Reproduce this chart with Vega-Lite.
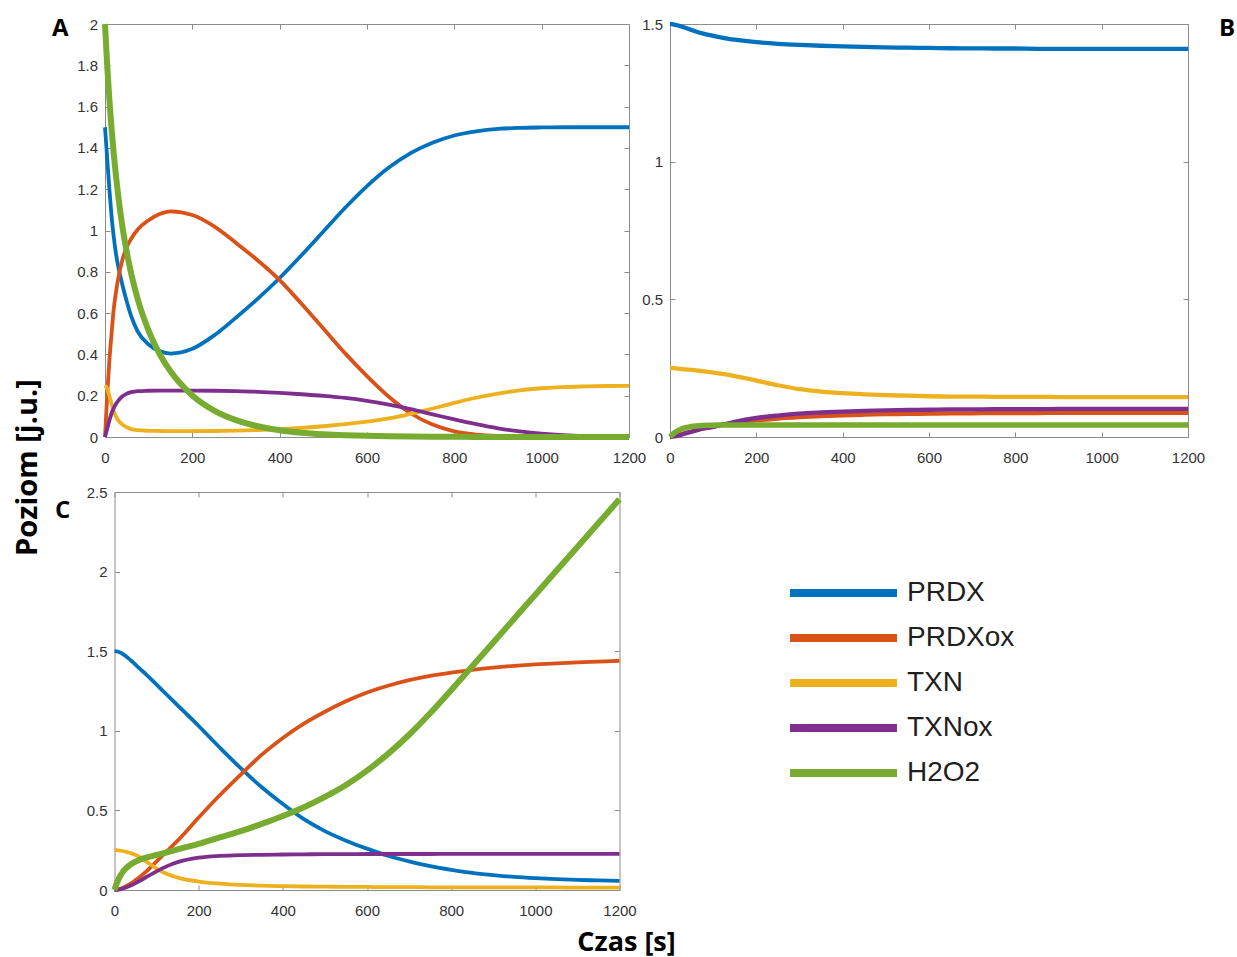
{
  "$schema": "https://vega.github.io/schema/vega-lite/v6.json",
  "padding": {"left": 12, "top": 16, "right": 0, "bottom": 8},
  "background": "white",
  "config": {
    "font": "Liberation Sans",
    "view": {"stroke": "#8c8c8c", "strokeWidth": 1},
    "axis": {
      "labelFont": "Liberation Sans",
      "labelFontSize": 15,
      "labelColor": "#333333",
      "labelFlush": false,
      "labelOverlap": false,
      "tickColor": "#8c8c8c",
      "tickWidth": 1,
      "tickSize": -5,
      "domain": false,
      "grid": false,
      "titleFont": "Open Sans",
      "titleFontWeight": "bold",
      "titleColor": "#000000"
    },
    "title": {
      "font": "Open Sans",
      "fontWeight": "bold",
      "fontSize": 24,
      "color": "#000000",
      "anchor": "start",
      "frame": "group",
      "offset": 0,
      "baseline": "alphabetic"
    },
    "line": {"interpolate": "monotone", "strokeJoin": "round"}
  },
  "datasets": {
    "runs": [
      {"panel": "A", "t": 0, "PRDX": 1.5, "PRDXox": 0, "TXN": 0.25, "TXNox": 0, "H2O2": 2.0},
      {"panel": "A", "t": 5, "PRDX": 1.35, "PRDXox": 0.2, "TXN": 0.235, "TXNox": 0.04, "H2O2": 1.8},
      {"panel": "A", "t": 10, "PRDX": 1.2, "PRDXox": 0.37, "TXN": 0.2, "TXNox": 0.08, "H2O2": 1.636},
      {"panel": "A", "t": 15, "PRDX": 1.07, "PRDXox": 0.5, "TXN": 0.16, "TXNox": 0.115, "H2O2": 1.494},
      {"panel": "A", "t": 20, "PRDX": 0.97, "PRDXox": 0.62, "TXN": 0.125, "TXNox": 0.14, "H2O2": 1.372},
      {"panel": "A", "t": 25, "PRDX": 0.89, "PRDXox": 0.7, "TXN": 0.1, "TXNox": 0.16, "H2O2": 1.266},
      {"panel": "A", "t": 30, "PRDX": 0.83, "PRDXox": 0.765, "TXN": 0.082, "TXNox": 0.175, "H2O2": 1.173},
      {"panel": "A", "t": 40, "PRDX": 0.735, "PRDXox": 0.86, "TXN": 0.06, "TXNox": 0.197, "H2O2": 1.017},
      {"panel": "A", "t": 50, "PRDX": 0.655, "PRDXox": 0.92, "TXN": 0.047, "TXNox": 0.21, "H2O2": 0.893},
      {"panel": "A", "t": 60, "PRDX": 0.585, "PRDXox": 0.96, "TXN": 0.038, "TXNox": 0.217, "H2O2": 0.791},
      {"panel": "A", "t": 75, "PRDX": 0.51, "PRDXox": 1.005, "TXN": 0.033, "TXNox": 0.222, "H2O2": 0.667},
      {"panel": "A", "t": 100, "PRDX": 0.448, "PRDXox": 1.05, "TXN": 0.03, "TXNox": 0.224, "H2O2": 0.514},
      {"panel": "A", "t": 125, "PRDX": 0.416, "PRDXox": 1.08, "TXN": 0.029, "TXNox": 0.225, "H2O2": 0.402},
      {"panel": "A", "t": 150, "PRDX": 0.404, "PRDXox": 1.093, "TXN": 0.028, "TXNox": 0.225, "H2O2": 0.318},
      {"panel": "A", "t": 200, "PRDX": 0.427, "PRDXox": 1.075, "TXN": 0.028, "TXNox": 0.225, "H2O2": 0.201},
      {"panel": "A", "t": 250, "PRDX": 0.492, "PRDXox": 1.02, "TXN": 0.029, "TXNox": 0.224, "H2O2": 0.128},
      {"panel": "A", "t": 300, "PRDX": 0.578, "PRDXox": 0.94, "TXN": 0.031, "TXNox": 0.222, "H2O2": 0.082},
      {"panel": "A", "t": 350, "PRDX": 0.67, "PRDXox": 0.855, "TXN": 0.034, "TXNox": 0.219, "H2O2": 0.052},
      {"panel": "A", "t": 400, "PRDX": 0.77, "PRDXox": 0.76, "TXN": 0.038, "TXNox": 0.214, "H2O2": 0.033},
      {"panel": "A", "t": 450, "PRDX": 0.88, "PRDXox": 0.645, "TXN": 0.044, "TXNox": 0.207, "H2O2": 0.021},
      {"panel": "A", "t": 500, "PRDX": 0.995, "PRDXox": 0.525, "TXN": 0.052, "TXNox": 0.199, "H2O2": 0.0135},
      {"panel": "A", "t": 550, "PRDX": 1.11, "PRDXox": 0.405, "TXN": 0.062, "TXNox": 0.189, "H2O2": 0.0086},
      {"panel": "A", "t": 600, "PRDX": 1.215, "PRDXox": 0.295, "TXN": 0.074, "TXNox": 0.175, "H2O2": 0.0055},
      {"panel": "A", "t": 650, "PRDX": 1.305, "PRDXox": 0.195, "TXN": 0.09, "TXNox": 0.157, "H2O2": 0.0035},
      {"panel": "A", "t": 700, "PRDX": 1.375, "PRDXox": 0.115, "TXN": 0.112, "TXNox": 0.135, "H2O2": 0.0022},
      {"panel": "A", "t": 750, "PRDX": 1.425, "PRDXox": 0.06, "TXN": 0.138, "TXNox": 0.11, "H2O2": 0.0014},
      {"panel": "A", "t": 800, "PRDX": 1.46, "PRDXox": 0.027, "TXN": 0.165, "TXNox": 0.085, "H2O2": 0.0009},
      {"panel": "A", "t": 850, "PRDX": 1.48, "PRDXox": 0.012, "TXN": 0.19, "TXNox": 0.062, "H2O2": 0.0005},
      {"panel": "A", "t": 900, "PRDX": 1.492, "PRDXox": 0.005, "TXN": 0.21, "TXNox": 0.042, "H2O2": 0.0003},
      {"panel": "A", "t": 950, "PRDX": 1.497, "PRDXox": 0.002, "TXN": 0.226, "TXNox": 0.027, "H2O2": 0.0002},
      {"panel": "A", "t": 1000, "PRDX": 1.499, "PRDXox": 0.001, "TXN": 0.236, "TXNox": 0.016, "H2O2": 0.0001},
      {"panel": "A", "t": 1050, "PRDX": 1.5, "PRDXox": 0, "TXN": 0.242, "TXNox": 0.009, "H2O2": 0},
      {"panel": "A", "t": 1100, "PRDX": 1.5, "PRDXox": 0, "TXN": 0.245, "TXNox": 0.005, "H2O2": 0},
      {"panel": "A", "t": 1150, "PRDX": 1.5, "PRDXox": 0, "TXN": 0.247, "TXNox": 0.003, "H2O2": 0},
      {"panel": "A", "t": 1200, "PRDX": 1.5, "PRDXox": 0, "TXN": 0.248, "TXNox": 0.002, "H2O2": 0},

      {"panel": "B", "t": 0, "PRDX": 1.5, "PRDXox": 0, "TXN": 0.25, "TXNox": 0, "H2O2": 0},
      {"panel": "B", "t": 5, "PRDX": 1.4995, "PRDXox": 0.002, "TXN": 0.25, "TXNox": 0.001, "H2O2": 0.008},
      {"panel": "B", "t": 10, "PRDX": 1.498, "PRDXox": 0.004, "TXN": 0.25, "TXNox": 0.002, "H2O2": 0.015},
      {"panel": "B", "t": 15, "PRDX": 1.496, "PRDXox": 0.006, "TXN": 0.249, "TXNox": 0.004, "H2O2": 0.02},
      {"panel": "B", "t": 20, "PRDX": 1.494, "PRDXox": 0.008, "TXN": 0.248, "TXNox": 0.006, "H2O2": 0.025},
      {"panel": "B", "t": 25, "PRDX": 1.4915, "PRDXox": 0.01, "TXN": 0.247, "TXNox": 0.008, "H2O2": 0.028},
      {"panel": "B", "t": 30, "PRDX": 1.489, "PRDXox": 0.012, "TXN": 0.246, "TXNox": 0.01, "H2O2": 0.031},
      {"panel": "B", "t": 40, "PRDX": 1.484, "PRDXox": 0.016, "TXN": 0.245, "TXNox": 0.015, "H2O2": 0.035},
      {"panel": "B", "t": 50, "PRDX": 1.478, "PRDXox": 0.02, "TXN": 0.244, "TXNox": 0.019, "H2O2": 0.038},
      {"panel": "B", "t": 60, "PRDX": 1.473, "PRDXox": 0.024, "TXN": 0.242, "TXNox": 0.024, "H2O2": 0.04},
      {"panel": "B", "t": 75, "PRDX": 1.466, "PRDXox": 0.03, "TXN": 0.239, "TXNox": 0.03, "H2O2": 0.042},
      {"panel": "B", "t": 100, "PRDX": 1.457, "PRDXox": 0.038, "TXN": 0.234, "TXNox": 0.037, "H2O2": 0.043},
      {"panel": "B", "t": 125, "PRDX": 1.449, "PRDXox": 0.045, "TXN": 0.228, "TXNox": 0.046, "H2O2": 0.044},
      {"panel": "B", "t": 150, "PRDX": 1.443, "PRDXox": 0.051, "TXN": 0.221, "TXNox": 0.055, "H2O2": 0.044},
      {"panel": "B", "t": 200, "PRDX": 1.434, "PRDXox": 0.06, "TXN": 0.205, "TXNox": 0.069, "H2O2": 0.044},
      {"panel": "B", "t": 250, "PRDX": 1.428, "PRDXox": 0.067, "TXN": 0.188, "TXNox": 0.078, "H2O2": 0.044},
      {"panel": "B", "t": 300, "PRDX": 1.424, "PRDXox": 0.072, "TXN": 0.174, "TXNox": 0.085, "H2O2": 0.044},
      {"panel": "B", "t": 350, "PRDX": 1.421, "PRDXox": 0.076, "TXN": 0.165, "TXNox": 0.089, "H2O2": 0.044},
      {"panel": "B", "t": 400, "PRDX": 1.419, "PRDXox": 0.079, "TXN": 0.159, "TXNox": 0.092, "H2O2": 0.044},
      {"panel": "B", "t": 450, "PRDX": 1.417, "PRDXox": 0.081, "TXN": 0.155, "TXNox": 0.095, "H2O2": 0.044},
      {"panel": "B", "t": 500, "PRDX": 1.415, "PRDXox": 0.083, "TXN": 0.152, "TXNox": 0.097, "H2O2": 0.044},
      {"panel": "B", "t": 550, "PRDX": 1.414, "PRDXox": 0.084, "TXN": 0.15, "TXNox": 0.098, "H2O2": 0.044},
      {"panel": "B", "t": 600, "PRDX": 1.413, "PRDXox": 0.085, "TXN": 0.148, "TXNox": 0.099, "H2O2": 0.044},
      {"panel": "B", "t": 650, "PRDX": 1.412, "PRDXox": 0.086, "TXN": 0.147, "TXNox": 0.1, "H2O2": 0.044},
      {"panel": "B", "t": 700, "PRDX": 1.4115, "PRDXox": 0.086, "TXN": 0.147, "TXNox": 0.1, "H2O2": 0.044},
      {"panel": "B", "t": 750, "PRDX": 1.411, "PRDXox": 0.087, "TXN": 0.146, "TXNox": 0.101, "H2O2": 0.044},
      {"panel": "B", "t": 800, "PRDX": 1.411, "PRDXox": 0.087, "TXN": 0.146, "TXNox": 0.101, "H2O2": 0.044},
      {"panel": "B", "t": 850, "PRDX": 1.41, "PRDXox": 0.087, "TXN": 0.146, "TXNox": 0.101, "H2O2": 0.044},
      {"panel": "B", "t": 900, "PRDX": 1.41, "PRDXox": 0.088, "TXN": 0.145, "TXNox": 0.102, "H2O2": 0.044},
      {"panel": "B", "t": 950, "PRDX": 1.41, "PRDXox": 0.088, "TXN": 0.145, "TXNox": 0.102, "H2O2": 0.044},
      {"panel": "B", "t": 1000, "PRDX": 1.41, "PRDXox": 0.088, "TXN": 0.145, "TXNox": 0.102, "H2O2": 0.044},
      {"panel": "B", "t": 1050, "PRDX": 1.41, "PRDXox": 0.088, "TXN": 0.145, "TXNox": 0.102, "H2O2": 0.044},
      {"panel": "B", "t": 1100, "PRDX": 1.41, "PRDXox": 0.088, "TXN": 0.145, "TXNox": 0.102, "H2O2": 0.044},
      {"panel": "B", "t": 1150, "PRDX": 1.41, "PRDXox": 0.088, "TXN": 0.145, "TXNox": 0.102, "H2O2": 0.044},
      {"panel": "B", "t": 1200, "PRDX": 1.41, "PRDXox": 0.088, "TXN": 0.145, "TXNox": 0.102, "H2O2": 0.044},

      {"panel": "C", "t": 0, "PRDX": 1.5, "PRDXox": 0, "TXN": 0.25, "TXNox": 0, "H2O2": 0},
      {"panel": "C", "t": 5, "PRDX": 1.499, "PRDXox": 0.002, "TXN": 0.25, "TXNox": 0.001, "H2O2": 0.04},
      {"panel": "C", "t": 10, "PRDX": 1.495, "PRDXox": 0.005, "TXN": 0.249, "TXNox": 0.003, "H2O2": 0.07},
      {"panel": "C", "t": 15, "PRDX": 1.49, "PRDXox": 0.009, "TXN": 0.247, "TXNox": 0.006, "H2O2": 0.095},
      {"panel": "C", "t": 20, "PRDX": 1.482, "PRDXox": 0.014, "TXN": 0.245, "TXNox": 0.01, "H2O2": 0.115},
      {"panel": "C", "t": 25, "PRDX": 1.473, "PRDXox": 0.02, "TXN": 0.242, "TXNox": 0.014, "H2O2": 0.13},
      {"panel": "C", "t": 30, "PRDX": 1.462, "PRDXox": 0.027, "TXN": 0.238, "TXNox": 0.019, "H2O2": 0.143},
      {"panel": "C", "t": 40, "PRDX": 1.44, "PRDXox": 0.043, "TXN": 0.23, "TXNox": 0.03, "H2O2": 0.163},
      {"panel": "C", "t": 50, "PRDX": 1.415, "PRDXox": 0.062, "TXN": 0.22, "TXNox": 0.043, "H2O2": 0.178},
      {"panel": "C", "t": 60, "PRDX": 1.39, "PRDXox": 0.082, "TXN": 0.207, "TXNox": 0.057, "H2O2": 0.19},
      {"panel": "C", "t": 75, "PRDX": 1.355, "PRDXox": 0.115, "TXN": 0.18, "TXNox": 0.08, "H2O2": 0.203},
      {"panel": "C", "t": 100, "PRDX": 1.29, "PRDXox": 0.18, "TXN": 0.135, "TXNox": 0.117, "H2O2": 0.22},
      {"panel": "C", "t": 125, "PRDX": 1.225, "PRDXox": 0.245, "TXN": 0.1, "TXNox": 0.15, "H2O2": 0.237},
      {"panel": "C", "t": 150, "PRDX": 1.16, "PRDXox": 0.31, "TXN": 0.078, "TXNox": 0.175, "H2O2": 0.255},
      {"panel": "C", "t": 200, "PRDX": 1.03, "PRDXox": 0.455, "TXN": 0.053, "TXNox": 0.203, "H2O2": 0.29},
      {"panel": "C", "t": 250, "PRDX": 0.895, "PRDXox": 0.595, "TXN": 0.04, "TXNox": 0.214, "H2O2": 0.33},
      {"panel": "C", "t": 300, "PRDX": 0.765, "PRDXox": 0.725, "TXN": 0.032, "TXNox": 0.219, "H2O2": 0.37},
      {"panel": "C", "t": 350, "PRDX": 0.645, "PRDXox": 0.85, "TXN": 0.027, "TXNox": 0.221, "H2O2": 0.415},
      {"panel": "C", "t": 400, "PRDX": 0.54, "PRDXox": 0.955, "TXN": 0.024, "TXNox": 0.223, "H2O2": 0.465},
      {"panel": "C", "t": 450, "PRDX": 0.445, "PRDXox": 1.045, "TXN": 0.022, "TXNox": 0.224, "H2O2": 0.52},
      {"panel": "C", "t": 500, "PRDX": 0.37, "PRDXox": 1.12, "TXN": 0.021, "TXNox": 0.225, "H2O2": 0.585},
      {"panel": "C", "t": 550, "PRDX": 0.31, "PRDXox": 1.185, "TXN": 0.02, "TXNox": 0.225, "H2O2": 0.66},
      {"panel": "C", "t": 600, "PRDX": 0.26, "PRDXox": 1.24, "TXN": 0.019, "TXNox": 0.226, "H2O2": 0.75},
      {"panel": "C", "t": 650, "PRDX": 0.215, "PRDXox": 1.283, "TXN": 0.018, "TXNox": 0.226, "H2O2": 0.855},
      {"panel": "C", "t": 700, "PRDX": 0.18, "PRDXox": 1.318, "TXN": 0.018, "TXNox": 0.226, "H2O2": 0.975},
      {"panel": "C", "t": 750, "PRDX": 0.15, "PRDXox": 1.345, "TXN": 0.017, "TXNox": 0.226, "H2O2": 1.11},
      {"panel": "C", "t": 800, "PRDX": 0.127, "PRDXox": 1.366, "TXN": 0.017, "TXNox": 0.227, "H2O2": 1.255},
      {"panel": "C", "t": 850, "PRDX": 0.108, "PRDXox": 1.383, "TXN": 0.017, "TXNox": 0.227, "H2O2": 1.405},
      {"panel": "C", "t": 900, "PRDX": 0.094, "PRDXox": 1.397, "TXN": 0.016, "TXNox": 0.227, "H2O2": 1.555},
      {"panel": "C", "t": 950, "PRDX": 0.082, "PRDXox": 1.408, "TXN": 0.016, "TXNox": 0.227, "H2O2": 1.705},
      {"panel": "C", "t": 1000, "PRDX": 0.074, "PRDXox": 1.417, "TXN": 0.016, "TXNox": 0.227, "H2O2": 1.855},
      {"panel": "C", "t": 1050, "PRDX": 0.068, "PRDXox": 1.424, "TXN": 0.016, "TXNox": 0.227, "H2O2": 2.005},
      {"panel": "C", "t": 1100, "PRDX": 0.063, "PRDXox": 1.43, "TXN": 0.015, "TXNox": 0.227, "H2O2": 2.155},
      {"panel": "C", "t": 1150, "PRDX": 0.06, "PRDXox": 1.435, "TXN": 0.015, "TXNox": 0.227, "H2O2": 2.305},
      {"panel": "C", "t": 1200, "PRDX": 0.057, "PRDXox": 1.44, "TXN": 0.015, "TXNox": 0.227, "H2O2": 2.455}
    ],
    "keys": [
      {"series": "PRDX"},
      {"series": "PRDXox"},
      {"series": "TXN"},
      {"series": "TXNox"},
      {"series": "H2O2"}
    ]
  },
  "columns": 2,
  "spacing": {"row": 55, "column": 41},
  "bounds": "flush",
  "align": "each",
  "center": true,
  "concat": [
    {
      "width": 524,
      "height": 413,
      "data": {"name": "runs"},
      "transform": [
        {"filter": "datum.panel == 'A'"},
        {"fold": ["PRDX", "PRDXox", "TXN", "TXNox", "H2O2"], "as": ["series", "v"]}
      ],
      "title": {"text": "A", "dx": -53, "dy": 28},
      "resolve": {"axis": {"x": "independent", "y": "independent"}},
      "encoding": {
        "color": {
          "field": "series", "type": "nominal",
          "scale": {"domain": ["PRDX", "PRDXox", "TXN", "TXNox", "H2O2"], "range": ["#0072BD", "#D95319", "#EDB120", "#7E2F8E", "#77AC30"]},
          "legend": null
        }
      },
      "layer": [
        {
          "transform": [{"filter": "datum.series != 'H2O2'"}],
          "mark": {"type": "line", "strokeWidth": 3.8},
          "encoding": {
            "x": {"field": "t", "type": "quantitative", "scale": {"domain": [0, 1200], "nice": false},
                  "axis": {"values": [0, 200, 400, 600, 800, 1000, 1200], "format": "d", "labelPadding": 18.5, "title": null}},
            "y": {"field": "v", "type": "quantitative", "scale": {"domain": [0, 2], "nice": false},
                  "axis": {"values": [0, 0.2, 0.4, 0.6, 0.8, 1, 1.2, 1.4, 1.6, 1.8, 2], "format": "~g", "labelPadding": 12.5,
                           "title": "Poziom [j.u.]", "titleFontSize": 29, "titleAngle": 270, "titleAlign": "center",
                           "titleBaseline": "alphabetic", "titleX": -69, "titleY": 443}}
          }
        },
        {
          "transform": [{"filter": "datum.series == 'H2O2'"}],
          "mark": {"type": "line", "strokeWidth": 6},
          "encoding": {
            "x": {"field": "t", "type": "quantitative",
                  "axis": {"orient": "top", "labels": false, "values": [0, 200, 400, 600, 800, 1000, 1200], "title": null}},
            "y": {"field": "v", "type": "quantitative",
                  "axis": {"orient": "right", "labels": false, "values": [0, 0.2, 0.4, 0.6, 0.8, 1, 1.2, 1.4, 1.6, 1.8, 2], "title": null}}
          }
        }
      ]
    },
    {
      "width": 518,
      "height": 413,
      "data": {"name": "runs"},
      "transform": [
        {"filter": "datum.panel == 'B'"},
        {"fold": ["PRDX", "PRDXox", "TXN", "TXNox", "H2O2"], "as": ["series", "v"]}
      ],
      "title": {"text": "B", "anchor": "end", "dx": 47, "dy": 28},
      "resolve": {"axis": {"x": "independent", "y": "independent"}},
      "encoding": {
        "color": {
          "field": "series", "type": "nominal",
          "scale": {"domain": ["PRDX", "PRDXox", "TXN", "TXNox", "H2O2"], "range": ["#0072BD", "#D95319", "#EDB120", "#7E2F8E", "#77AC30"]},
          "legend": null
        }
      },
      "layer": [
        {
          "transform": [{"filter": "datum.series != 'H2O2'"}],
          "mark": {"type": "line", "strokeWidth": 4.3},
          "encoding": {
            "x": {"field": "t", "type": "quantitative", "scale": {"domain": [0, 1200], "nice": false},
                  "axis": {"values": [0, 200, 400, 600, 800, 1000, 1200], "format": "d", "labelPadding": 18.5, "title": null}},
            "y": {"field": "v", "type": "quantitative", "scale": {"domain": [0, 1.5], "nice": false},
                  "axis": {"values": [0, 0.5, 1, 1.5], "format": "~g", "labelPadding": 12.5, "title": null}}
          }
        },
        {
          "transform": [{"filter": "datum.series == 'H2O2'"}],
          "mark": {"type": "line", "strokeWidth": 5.5},
          "encoding": {
            "x": {"field": "t", "type": "quantitative",
                  "axis": {"orient": "top", "labels": false, "values": [0, 200, 400, 600, 800, 1000, 1200], "title": null}},
            "y": {"field": "v", "type": "quantitative",
                  "axis": {"orient": "right", "labels": false, "values": [0, 0.5, 1, 1.5], "title": null}}
          }
        }
      ]
    },
    {
      "width": 505,
      "height": 398,
      "data": {"name": "runs"},
      "transform": [
        {"filter": "datum.panel == 'C'"},
        {"fold": ["PRDX", "PRDXox", "TXN", "TXNox", "H2O2"], "as": ["series", "v"]}
      ],
      "title": {"text": "C", "dx": -59.5, "dy": 42},
      "resolve": {"axis": {"x": "independent", "y": "independent"}},
      "encoding": {
        "color": {
          "field": "series", "type": "nominal",
          "scale": {"domain": ["PRDX", "PRDXox", "TXN", "TXNox", "H2O2"], "range": ["#0072BD", "#D95319", "#EDB120", "#7E2F8E", "#77AC30"]},
          "legend": null
        }
      },
      "layer": [
        {
          "transform": [{"filter": "datum.series != 'H2O2'"}],
          "mark": {"type": "line", "strokeWidth": 3.8},
          "encoding": {
            "x": {"field": "t", "type": "quantitative", "scale": {"domain": [0, 1200], "nice": false},
                  "axis": {"values": [0, 200, 400, 600, 800, 1000, 1200], "format": "d", "labelPadding": 18.5,
                           "title": "Czas [s]", "titleFontSize": 27, "titleAlign": "center", "titleBaseline": "alphabetic",
                           "titleX": 511.5, "titleY": 60}},
            "y": {"field": "v", "type": "quantitative", "scale": {"domain": [0, 2.5], "nice": false},
                  "axis": {"values": [0, 0.5, 1, 1.5, 2, 2.5], "format": "~g", "labelPadding": 12.5, "title": null}}
          }
        },
        {
          "transform": [{"filter": "datum.series == 'H2O2'"}],
          "mark": {"type": "line", "strokeWidth": 6},
          "encoding": {
            "x": {"field": "t", "type": "quantitative",
                  "axis": {"orient": "top", "labels": false, "values": [0, 200, 400, 600, 800, 1000, 1200], "title": null}},
            "y": {"field": "v", "type": "quantitative",
                  "axis": {"orient": "right", "labels": false, "values": [0, 0.5, 1, 1.5, 2, 2.5], "title": null}}
          }
        }
      ]
    },
    {
      "width": 518,
      "height": 315,
      "data": {"name": "keys"},
      "view": {"stroke": null},
      "encoding": {
        "y": {"field": "series", "type": "nominal", "sort": ["PRDX", "PRDXox", "TXN", "TXNox", "H2O2"],
              "scale": {"type": "band", "paddingInner": 0, "paddingOuter": 1, "align": 0.872}, "axis": null}
      },
      "layer": [
        {
          "mark": {"type": "rule", "strokeWidth": 8, "strokeCap": "butt"},
          "encoding": {
            "x": {"datum": 0.2317, "type": "quantitative", "scale": {"domain": [0, 1], "nice": false}, "axis": null},
            "x2": {"datum": 0.4382},
            "color": {
              "field": "series", "type": "nominal",
              "scale": {"domain": ["PRDX", "PRDXox", "TXN", "TXNox", "H2O2"], "range": ["#0072BD", "#D95319", "#EDB120", "#7E2F8E", "#77AC30"]},
              "legend": null
            }
          }
        },
        {
          "mark": {"type": "text", "align": "left", "baseline": "middle", "font": "Liberation Sans", "fontSize": 28, "color": "#1f1f1f"},
          "encoding": {
            "x": {"datum": 0.4575, "type": "quantitative"},
            "text": {"field": "series"}
          }
        }
      ]
    }
  ]
}
